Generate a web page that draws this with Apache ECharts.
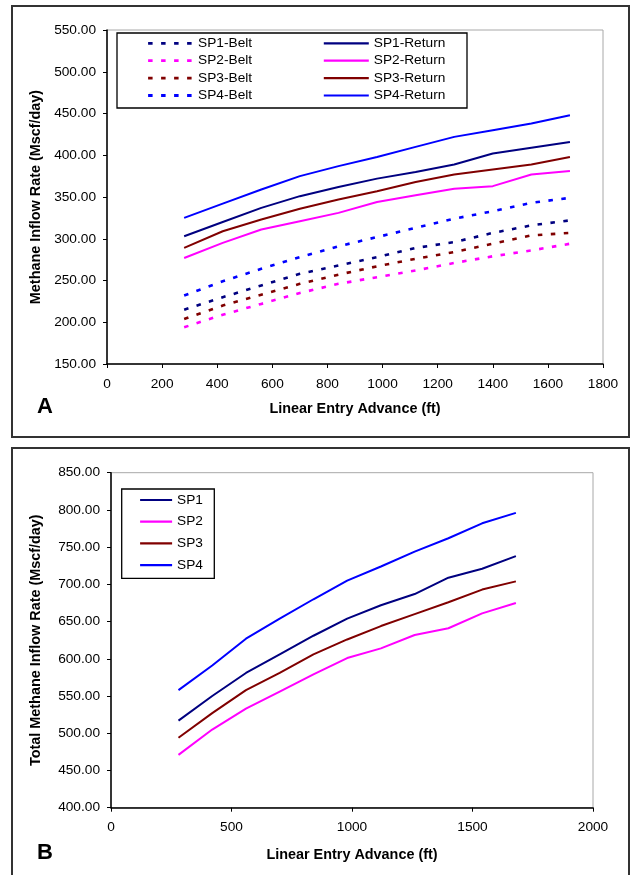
<!DOCTYPE html>
<html>
<head>
<meta charset="utf-8">
<script src="https://cdn.jsdelivr.net/npm/echarts@6/dist/echarts.min.js"></script>
<style>
html,body{margin:0;padding:0;background:#fff;}
#chart{width:631px;height:875px;}
</style>
</head>
<body>
<div id="chart"></div>
<script>
// ---- Data ----
const advance = [280, 420, 560, 700, 840, 980, 1120, 1260, 1400, 1540, 1680];

const sp1Belt   = [215, 230, 244, 258, 268, 278, 289, 296, 307, 316, 322];
const sp2Belt   = [194, 209, 222, 235, 246, 254, 262, 271, 279, 286, 294];
const sp3Belt   = [204, 220, 233, 246, 257, 267, 276, 284, 294, 304, 307];
const sp4Belt   = [232, 249, 264, 278, 291, 302, 313, 324, 333, 343, 349];

const sp1Return = [303, 320, 337, 351, 362, 372, 380, 389, 402, 409, 416];
const sp2Return = [277, 295, 311, 321, 331, 344, 352, 360, 363, 377, 381];
const sp3Return = [289, 309, 323, 336, 347, 357, 368, 377, 383, 389, 398];
const sp4Return = [325, 342, 359, 375, 387, 398, 410, 422, 430, 438, 448];

const sp1Total  = [517, 550, 581, 606, 631, 654, 672, 687, 709, 721, 738];
const sp2Total  = [471, 505, 533, 556, 579, 601, 614, 632, 641, 661, 675];
const sp3Total  = [494, 527, 558, 581, 606, 626, 644, 660, 676, 693, 704];
const sp4Total  = [558, 591, 627, 654, 680, 705, 724, 744, 762, 782, 796];

const belt   = {'SP1-Belt': sp1Belt, 'SP2-Belt': sp2Belt, 'SP3-Belt': sp3Belt, 'SP4-Belt': sp4Belt};
const ret    = {'SP1-Return': sp1Return, 'SP2-Return': sp2Return, 'SP3-Return': sp3Return, 'SP4-Return': sp4Return};
const totals = {'SP1': sp1Total, 'SP2': sp2Total, 'SP3': sp3Total, 'SP4': sp4Total};

const colors = ['#000080', '#FF00FF', '#800000', '#0000FF'];
const FONT = "'Liberation Sans', Arial, sans-serif";

function pairs(arr) { return advance.map((x, i) => [x, arr[i]]); }

const series = [];
Object.keys(belt).forEach((name, i) => {
  series.push({
    name, type: 'line', xAxisIndex: 0, yAxisIndex: 0, data: pairs(belt[name]),
    symbol: 'none', color: colors[i],
    lineStyle: {width: 2.6, color: colors[i], type: [4.5, 8.5], cap: 'butt'}
  });
});
Object.keys(ret).forEach((name, i) => {
  series.push({
    name, type: 'line', xAxisIndex: 0, yAxisIndex: 0, data: pairs(ret[name]),
    symbol: 'none', color: colors[i],
    lineStyle: {width: 2, color: colors[i], type: 'solid'}
  });
});
Object.keys(totals).forEach((name, i) => {
  series.push({
    name, type: 'line', xAxisIndex: 1, yAxisIndex: 1, data: pairs(totals[name]),
    symbol: 'none', color: colors[i],
    lineStyle: {width: 2, color: colors[i], type: 'solid'}
  });
});

const tickLabel = {color: '#000', fontSize: 13.7, fontFamily: FONT};
const axisLine = {show: true, onZero: false, lineStyle: {color: '#000', width: 1.5}};
const axisTick = {show: true, inside: false, length: 4, lineStyle: {color: '#000', width: 1}};
const nameStyle = {color: '#000', fontSize: 14.4, fontWeight: 'bold', fontFamily: FONT};

const legendText = {color: '#000', fontSize: 13.7, fontFamily: FONT, lineHeight: 14};
const legendItem = {opacity: 0, borderWidth: 0};

const option = {
  backgroundColor: '#fff',
  animation: false,
  grid: [
    {left: 107, top: 30, width: 496, height: 334, show: true, borderColor: '#a8a8a8', borderWidth: 1, backgroundColor: 'transparent'},
    {left: 111, top: 472.7, width: 482, height: 335, show: true, borderColor: '#a8a8a8', borderWidth: 1, backgroundColor: 'transparent'}
  ],
  xAxis: [
    {type: 'value', gridIndex: 0, min: 0, max: 1800, interval: 200,
     name: 'Linear Entry Advance (ft)', nameLocation: 'middle', nameGap: 38, nameTextStyle: nameStyle,
     axisLine, axisTick, splitLine: {show: false},
     axisLabel: Object.assign({margin: 13, formatter: v => String(v)}, tickLabel)},
    {type: 'value', gridIndex: 1, min: 0, max: 2000, interval: 500,
     name: 'Linear Entry Advance (ft)', nameLocation: 'middle', nameGap: 40, nameTextStyle: nameStyle,
     axisLine, axisTick, splitLine: {show: false},
     axisLabel: Object.assign({margin: 13, formatter: v => String(v)}, tickLabel)}
  ],
  yAxis: [
    {type: 'value', gridIndex: 0, min: 150, max: 550, interval: 50,
     name: 'Methane Inflow Rate (Mscf/day)', nameLocation: 'middle', nameGap: 64, nameTextStyle: nameStyle,
     axisLine, axisTick, splitLine: {show: false},
     axisLabel: Object.assign({margin: 11, formatter: v => v.toFixed(2)}, tickLabel)},
    {type: 'value', gridIndex: 1, min: 400, max: 850, interval: 50,
     name: 'Total Methane Inflow Rate (Mscf/day)', nameLocation: 'middle', nameGap: 68, nameTextStyle: nameStyle,
     axisLine, axisTick, splitLine: {show: false},
     axisLabel: Object.assign({margin: 11, formatter: v => v.toFixed(2)}, tickLabel)}
  ],
  legend: [
    {data: Object.keys(belt), orient: 'vertical', left: 146.7, top: 36.3, padding: 0,
     itemWidth: 45, itemHeight: 14, itemGap: 3.4, textStyle: legendText, itemStyle: legendItem,
     lineStyle: {width: 2.8}, selectedMode: false},
    {data: Object.keys(ret), orient: 'vertical', left: 322.7, top: 36.3, padding: 0,
     itemWidth: 45, itemHeight: 14, itemGap: 3.4, textStyle: legendText, itemStyle: legendItem,
     lineStyle: {width: 2.2}, selectedMode: false},
    {data: Object.keys(totals), orient: 'vertical', left: 139, top: 493, padding: 0,
     itemWidth: 32, itemHeight: 14, itemGap: 7.7, textStyle: legendText, itemStyle: legendItem,
     lineStyle: {width: 2.2}, selectedMode: false}
  ],
  graphic: [
    {type: 'rect', shape: {x: 12, y: 6, width: 617, height: 431}, style: {fill: 'none', stroke: '#333', lineWidth: 2}, silent: true},
    {type: 'rect', shape: {x: 12, y: 448, width: 617, height: 440}, style: {fill: 'none', stroke: '#333', lineWidth: 2}, silent: true},
    {type: 'rect', shape: {x: 117, y: 33, width: 350, height: 75}, style: {fill: 'none', stroke: '#000', lineWidth: 1.3}, silent: true},
    {type: 'rect', shape: {x: 121.7, y: 489, width: 92.6, height: 89.3}, style: {fill: 'none', stroke: '#000', lineWidth: 1.3}, silent: true},
    {type: 'text', x: 45, y: 407, style: {text: 'A', font: "bold 22px 'Liberation Sans', Arial, sans-serif", fill: '#000', align: 'center', verticalAlign: 'middle'}, silent: true},
    {type: 'text', x: 45, y: 853, style: {text: 'B', font: "bold 22px 'Liberation Sans', Arial, sans-serif", fill: '#000', align: 'center', verticalAlign: 'middle'}, silent: true}
  ],
  series
};

const chart = echarts.init(document.getElementById('chart'), null, {renderer: 'canvas'});
chart.setOption(option);
</script>
</body>
</html>
